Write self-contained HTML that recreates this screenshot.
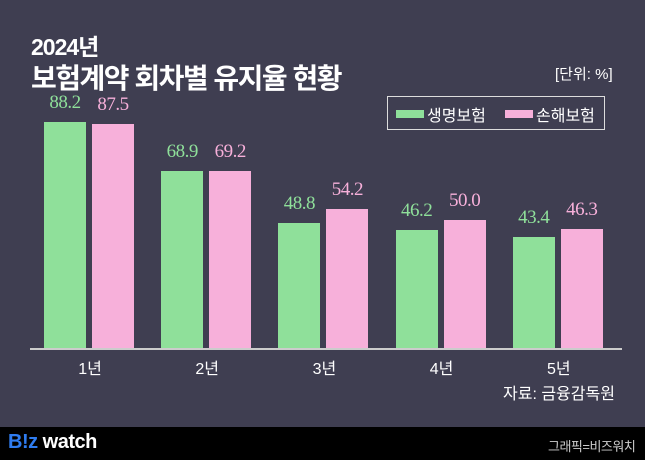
<!DOCTYPE html><html><head><meta charset="utf-8"><style>
body{margin:0;width:645px;height:460px;overflow:hidden;background:#3f3e51;font-family:"Liberation Sans","Noto Sans CJK KR",sans-serif;color:#fff;position:relative}
.a{position:absolute;white-space:nowrap}
.g{background:#8fe09a}.p{background:#f7b0da}
.v{font-family:"Liberation Serif","Noto Serif CJK SC",serif;font-size:19px;width:60px;text-align:center;letter-spacing:-0.5px}
</style></head><body>
<div class="a" style="left:31px;top:28px;font-size:23px;font-weight:bold;letter-spacing:-1px">2024년</div>
<div class="a" style="left:31px;top:57px;font-size:28px;font-weight:bold;letter-spacing:-1.5px">보험계약 회차별 유지율 현황</div>
<div class="a" style="left:555px;top:63px;font-size:15px">[단위: %]</div>
<div class="a" style="left:387px;top:96px;width:216px;height:32px;border:1px solid #ddd"></div>
<div class="a g" style="left:396px;top:110px;width:28px;height:8px"></div>
<div class="a" style="left:427px;top:102px;font-size:16px">생명보험</div>
<div class="a p" style="left:505px;top:110px;width:28px;height:8px"></div>
<div class="a" style="left:536px;top:102px;font-size:16px">손해보험</div>
<div class="a" style="left:30px;top:348px;width:592px;height:2px;background:#ccc"></div>
<div id="bars"></div>
<div class="a" style="left:503px;top:380px;font-size:16px">자료: 금융감독원</div>
<div class="a" style="left:0;top:427px;width:645px;height:33px;background:#000"></div>
<div class="a" style="left:8px;top:431px;font-size:20px;font-weight:bold;letter-spacing:-0.5px"><span style="color:#2f7cf0">B!z</span> watch</div>
<div class="a" style="left:548px;top:436px;font-size:13px;color:#ccc;letter-spacing:-0.5px">그래픽=비즈워치</div>
<script>
var d=[[88.2,87.5],[68.9,69.2],[48.8,54.2],[46.2,50.0],[43.4,46.3]],h='';
d.forEach(function(v,i){var x=44+i*117.2;
[0,1].forEach(function(j){var hh=v[j]*2.562,xx=x+j*48;
h+='<div class="a '+(j?'p':'g')+'" style="left:'+xx+'px;top:'+(348-hh)+'px;width:42px;height:'+hh+'px"></div>';
h+='<div class="a v" style="left:'+(xx-9)+'px;top:'+(348-hh-30)+'px;color:'+(j?'#f7b0da':'#8fe09a')+'">'+v[j].toFixed(1)+'</div>';});
h+='<div class="a" style="left:'+(x+26)+'px;top:355px;font-size:16px;width:40px;text-align:center">'+(i+1)+'년</div>';});
document.getElementById('bars').innerHTML=h;
</script></body></html>
